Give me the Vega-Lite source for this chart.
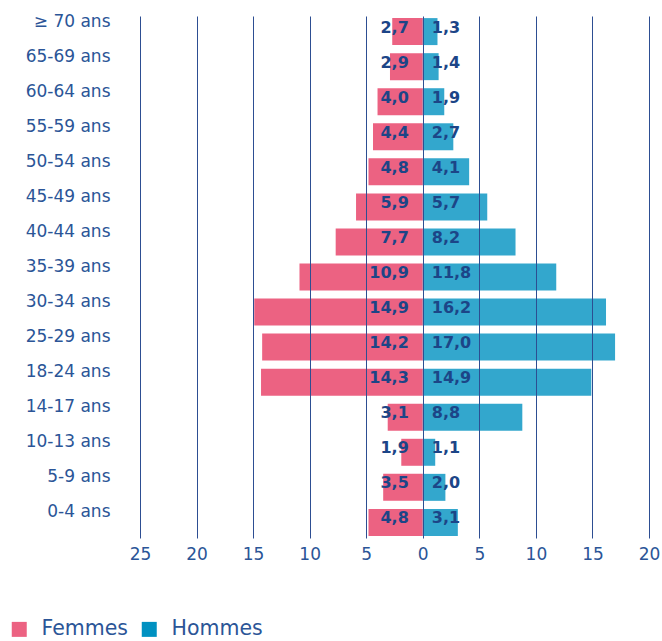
{
  "$schema": "https://vega.github.io/schema/vega-lite/v6.json",
  "autosize": {"type": "none"},
  "width": 509,
  "height": 522,
  "padding": {"left": 140, "top": 16, "right": 13, "bottom": 103},
  "config": {
    "view": {"stroke": null},
    "font": "DejaVu Sans",
    "locale": {"number": {"decimal": ",", "thousands": " ", "grouping": [3], "currency": ["", " €"]}}
  },
  "data": {
    "values": [
      {"age": "≥ 70 ans", "sexe": "Femmes", "pct": 2.7},
      {"age": "≥ 70 ans", "sexe": "Hommes", "pct": 1.3},
      {"age": "65-69 ans", "sexe": "Femmes", "pct": 2.9},
      {"age": "65-69 ans", "sexe": "Hommes", "pct": 1.4},
      {"age": "60-64 ans", "sexe": "Femmes", "pct": 4.0},
      {"age": "60-64 ans", "sexe": "Hommes", "pct": 1.9},
      {"age": "55-59 ans", "sexe": "Femmes", "pct": 4.4},
      {"age": "55-59 ans", "sexe": "Hommes", "pct": 2.7},
      {"age": "50-54 ans", "sexe": "Femmes", "pct": 4.8},
      {"age": "50-54 ans", "sexe": "Hommes", "pct": 4.1},
      {"age": "45-49 ans", "sexe": "Femmes", "pct": 5.9},
      {"age": "45-49 ans", "sexe": "Hommes", "pct": 5.7},
      {"age": "40-44 ans", "sexe": "Femmes", "pct": 7.7},
      {"age": "40-44 ans", "sexe": "Hommes", "pct": 8.2},
      {"age": "35-39 ans", "sexe": "Femmes", "pct": 10.9},
      {"age": "35-39 ans", "sexe": "Hommes", "pct": 11.8},
      {"age": "30-34 ans", "sexe": "Femmes", "pct": 14.9},
      {"age": "30-34 ans", "sexe": "Hommes", "pct": 16.2},
      {"age": "25-29 ans", "sexe": "Femmes", "pct": 14.2},
      {"age": "25-29 ans", "sexe": "Hommes", "pct": 17.0},
      {"age": "18-24 ans", "sexe": "Femmes", "pct": 14.3},
      {"age": "18-24 ans", "sexe": "Hommes", "pct": 14.9},
      {"age": "14-17 ans", "sexe": "Femmes", "pct": 3.1},
      {"age": "14-17 ans", "sexe": "Hommes", "pct": 8.8},
      {"age": "10-13 ans", "sexe": "Femmes", "pct": 1.9},
      {"age": "10-13 ans", "sexe": "Hommes", "pct": 1.1},
      {"age": "5-9 ans", "sexe": "Femmes", "pct": 3.5},
      {"age": "5-9 ans", "sexe": "Hommes", "pct": 2.0},
      {"age": "0-4 ans", "sexe": "Femmes", "pct": 4.8},
      {"age": "0-4 ans", "sexe": "Hommes", "pct": 3.1}
    ]
  },
  "transform": [
    {"calculate": "datum.sexe === 'Femmes' ? -datum.pct : datum.pct", "as": "pos"}
  ],
  "encoding": {
    "y": {
      "field": "age",
      "type": "nominal",
      "sort": ["≥ 70 ans", "65-69 ans", "60-64 ans", "55-59 ans", "50-54 ans", "45-49 ans", "40-44 ans", "35-39 ans", "30-34 ans", "25-29 ans", "18-24 ans", "14-17 ans", "10-13 ans", "5-9 ans", "0-4 ans"],
      "scale": {"paddingInner": 0.23, "paddingOuter": 0.06},
      "axis": {
        "title": null,
        "domain": false,
        "ticks": false,
        "grid": false,
        "labelPadding": 30,
        "labelFontSize": 17,
        "labelColor": "#2b5597",
        "labelBaseline": "middle",
        "labelOffset": -10
      }
    }
  },
  "layer": [
    {
      "mark": {"type": "bar"},
      "encoding": {
        "x": {
          "field": "pos",
          "type": "quantitative",
          "scale": {"domain": [-25, 20], "nice": false},
          "axis": {
            "title": null,
            "values": [-25, -20, -15, -10, -5, 0, 5, 10, 15, 20],
            "labelExpr": "abs(datum.value)",
            "labelFlush": false,
            "domain": false,
            "ticks": false,
            "grid": true,
            "gridColor": "#2d4e92",
            "gridWidth": 1,
            "gridOpacity": 1,
            "zindex": 1,
            "labelPadding": 8,
            "labelFontSize": 17,
            "labelColor": "#2b5597"
          }
        },
        "color": {
          "field": "sexe",
          "type": "nominal",
          "scale": {"domain": ["Femmes", "Hommes"], "range": ["#ec6282", "#0091c1"]},
          "legend": {
            "title": null,
            "orient": "none",
            "legendX": -131,
            "legendY": 603,
            "direction": "horizontal",
            "symbolType": "square",
            "symbolSize": 225,
            "symbolStrokeWidth": 0,
            "symbolOpacity": 1,
            "labelFontSize": 20.5,
            "labelColor": "#2b5597",
            "labelOffset": 12,
            "columnPadding": 10
          }
        },
        "fillOpacity": {
          "condition": {"test": "datum.sexe === 'Hommes'", "value": 0.8},
          "value": 1
        }
      }
    },
    {
      "transform": [{"filter": "datum.sexe === 'Femmes'"}],
      "mark": {"type": "text", "align": "right", "baseline": "alphabetic", "dx": -14, "dy": 1, "fontSize": 16, "fontWeight": "bold", "color": "#1c4587"},
      "encoding": {
        "x": {"datum": 0, "type": "quantitative"},
        "text": {"field": "pct", "type": "quantitative", "format": ".1f"}
      }
    },
    {
      "transform": [{"filter": "datum.sexe === 'Hommes'"}],
      "mark": {"type": "text", "align": "left", "baseline": "alphabetic", "dx": 9, "dy": 1, "fontSize": 16, "fontWeight": "bold", "color": "#1c4587"},
      "encoding": {
        "x": {"datum": 0, "type": "quantitative"},
        "text": {"field": "pct", "type": "quantitative", "format": ".1f"}
      }
    }
  ]
}
